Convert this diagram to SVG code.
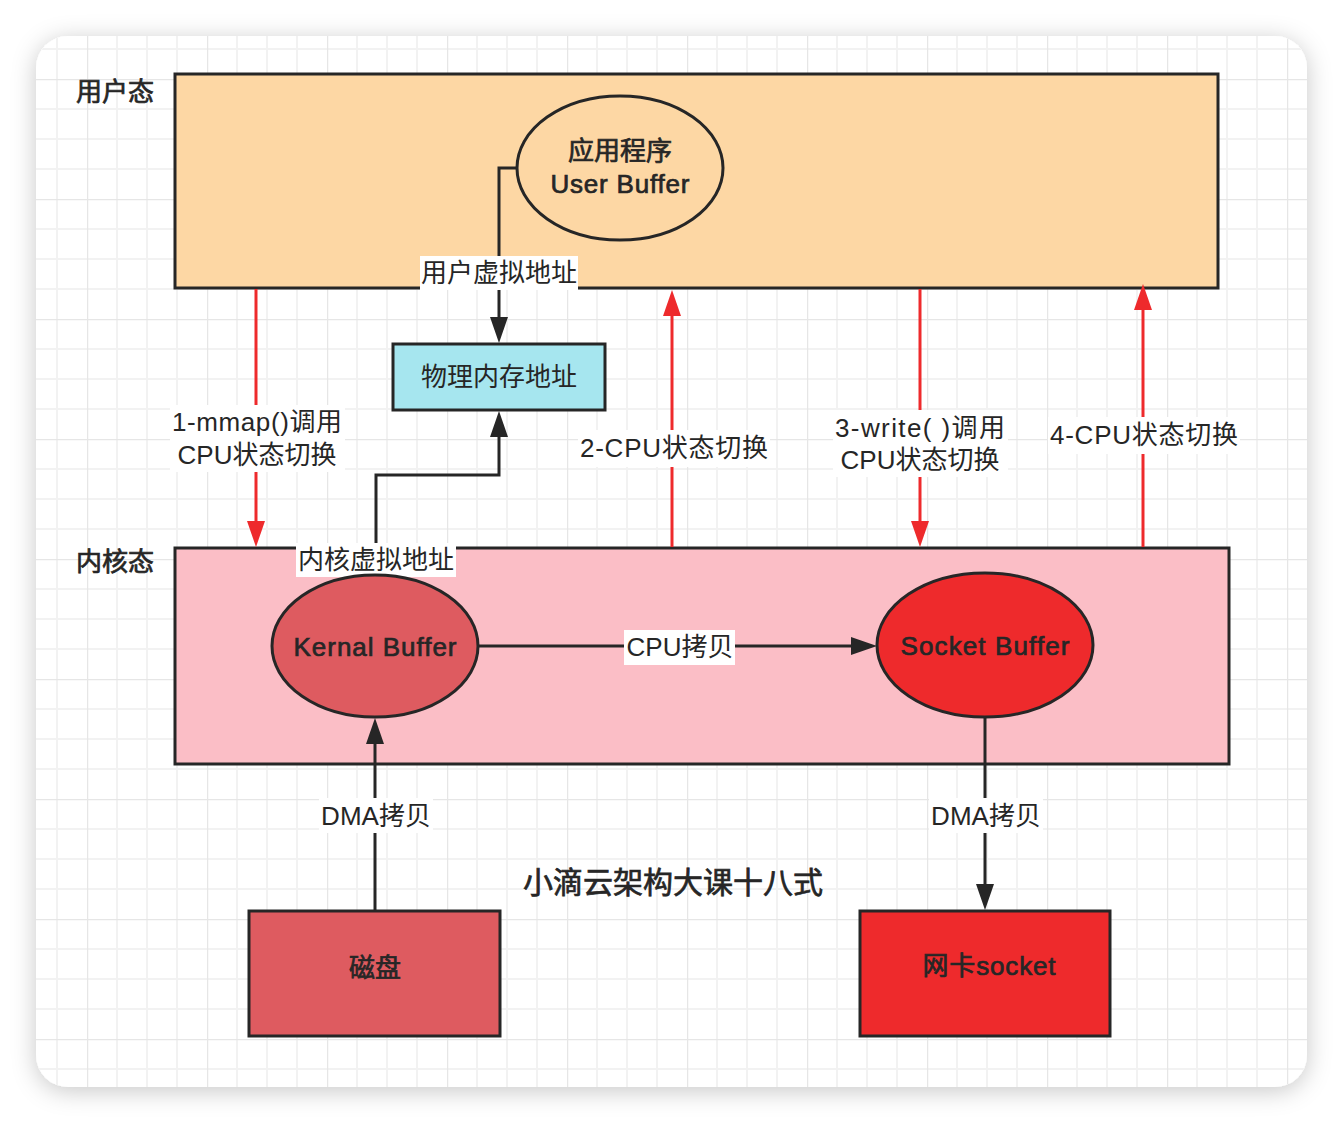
<svg xmlns="http://www.w3.org/2000/svg" width="1344" height="1124" viewBox="0 0 1344 1124">
<style>
.t{font-family:"Liberation Sans","Noto Sans CJK SC",sans-serif;font-size:26px;fill:#262626;text-anchor:middle;dominant-baseline:central}
.n{stroke:#262626;stroke-width:0.7px}
.ttl{font-size:30px}
.box{stroke:#262626;stroke-width:3}
.blk{fill:none;stroke:#262626;stroke-width:3}
.red{fill:none;stroke:#ee2a2c;stroke-width:3}
.bg{fill:#ffffff}
</style>
<defs>
<filter id="sh" x="-10%" y="-10%" width="120%" height="120%">
<feDropShadow dx="0" dy="4" stdDeviation="12" flood-color="#000" flood-opacity="0.22"/>
</filter>
<pattern id="grid" patternUnits="userSpaceOnUse" x="87" y="79" width="120" height="120">
<g stroke="#f2f2f2" stroke-width="2">
<line x1="30" y1="0" x2="30" y2="120"/><line x1="60" y1="0" x2="60" y2="120"/><line x1="90" y1="0" x2="90" y2="120"/>
<line x1="0" y1="30" x2="120" y2="30"/><line x1="0" y1="60" x2="120" y2="60"/><line x1="0" y1="90" x2="120" y2="90"/>
</g>
<g stroke="#e6e6e6" stroke-width="2.5">
<line x1="0" y1="0" x2="0" y2="120"/><line x1="0" y1="0" x2="120" y2="0"/>
</g>
</pattern>
<marker id="ab" markerUnits="userSpaceOnUse" markerWidth="28" markerHeight="20" refX="2" refY="9" orient="auto">
<path d="M0,0 L26,9 L0,18 z" fill="#262626"/>
</marker>
<marker id="ar" markerUnits="userSpaceOnUse" markerWidth="28" markerHeight="20" refX="2" refY="9" orient="auto">
<path d="M0,0 L26,9 L0,18 z" fill="#ee2a2c"/>
</marker>
</defs>
<rect width="1344" height="1124" fill="#ffffff"/>
<rect x="36" y="36" width="1271" height="1051" rx="32" fill="#ffffff" filter="url(#sh)"/>
<rect x="36" y="36" width="1271" height="1051" rx="32" fill="url(#grid)"/>

<g id="user-space">
<rect class="box" x="175" y="74" width="1043" height="214" fill="#fdd7a4"/>
</g>
<g id="kernel-space">
<rect class="box" x="175" y="548" width="1054" height="216" fill="#fbbec6"/>
</g>
<text class="t n" x="115" y="92">用户态</text>
<text class="t n" x="115" y="562">内核态</text>

<g id="connectors">
<path class="blk" d="M516,168 H499 V319" marker-end="url(#ab)"/>
<path class="blk" d="M376,576 V475 H499 V435" marker-end="url(#ab)"/>
<path class="blk" d="M478,646 H853" marker-end="url(#ab)"/>
<path class="blk" d="M375,911 V742" marker-end="url(#ab)"/>
<path class="blk" d="M985,717 V886" marker-end="url(#ab)"/>
<path class="red" d="M256,289 V523" marker-end="url(#ar)"/>
<path class="red" d="M672,547 V314" marker-end="url(#ar)"/>
<path class="red" d="M920,289 V523" marker-end="url(#ar)"/>
<path class="red" d="M1143,547 V308" marker-end="url(#ar)"/>

<rect class="bg" x="420" y="256" width="158" height="34"/>
<text class="t" x="499" y="273">用户虚拟地址</text>
<rect class="bg" x="296" y="543" width="160" height="34"/>
<text class="t" x="376" y="560">内核虚拟地址</text>
<rect class="bg" x="170" y="405" width="175" height="67"/>
<text class="t" x="257" y="422" textLength="170" lengthAdjust="spacing">1-mmap()调用</text>
<text class="t" x="257" y="455">CPU状态切换</text>
<rect class="bg" x="578" y="430" width="192" height="37"/>
<text class="t" x="674" y="448" textLength="188" lengthAdjust="spacing">2-CPU状态切换</text>
<rect class="bg" x="833" y="410" width="175" height="67"/>
<text class="t" x="920" y="428" textLength="170" lengthAdjust="spacing">3-write( )调用</text>
<text class="t" x="920" y="460">CPU状态切换</text>
<rect class="bg" x="1048" y="417" width="192" height="37"/>
<text class="t" x="1144" y="435" textLength="188" lengthAdjust="spacing">4-CPU状态切换</text>
<rect class="bg" x="624" y="630" width="111" height="35"/>
<text class="t" x="680" y="647">CPU拷贝</text>
<rect class="bg" x="319" y="798" width="114" height="35"/>
<text class="t" x="376" y="816">DMA拷贝</text>
<rect class="bg" x="929" y="798" width="114" height="35"/>
<text class="t" x="986" y="816">DMA拷贝</text>
</g>

<g id="user-buffer">
<ellipse class="box" cx="620" cy="168" rx="103" ry="72" fill="#fdd7a4"/>
<text class="t n" x="620" y="151">应用程序</text>
<text class="t n" x="620" y="184" textLength="139" lengthAdjust="spacing">User Buffer</text>
</g>
<g id="phys-mem">
<rect class="box" x="393" y="344" width="212" height="66" fill="#a6e6ef"/>
<text class="t" x="499" y="377">物理内存地址</text>
</g>
<g id="kernal-buffer">
<ellipse class="box" cx="375" cy="646" rx="103" ry="71" fill="#de5b60"/>
<text class="t n" x="375" y="647" textLength="163" lengthAdjust="spacing">Kernal Buffer</text>
</g>
<g id="socket-buffer">
<ellipse class="box" cx="985" cy="645" rx="108" ry="72" fill="#ee2a2c"/>
<text class="t n" x="985" y="646" textLength="169" lengthAdjust="spacing">Socket Buffer</text>
</g>
<g id="disk">
<rect class="box" x="249" y="911" width="251" height="125" fill="#de5b60"/>
<text class="t n" x="375" y="968">磁盘</text>
</g>
<g id="nic">
<rect class="box" x="860" y="911" width="250" height="125" fill="#ee2a2c"/>
<text class="t n" x="989" y="966" textLength="133" lengthAdjust="spacing">网卡socket</text>
</g>
<text class="t ttl n" x="673" y="882">小滴云架构大课十八式</text>
</svg>
